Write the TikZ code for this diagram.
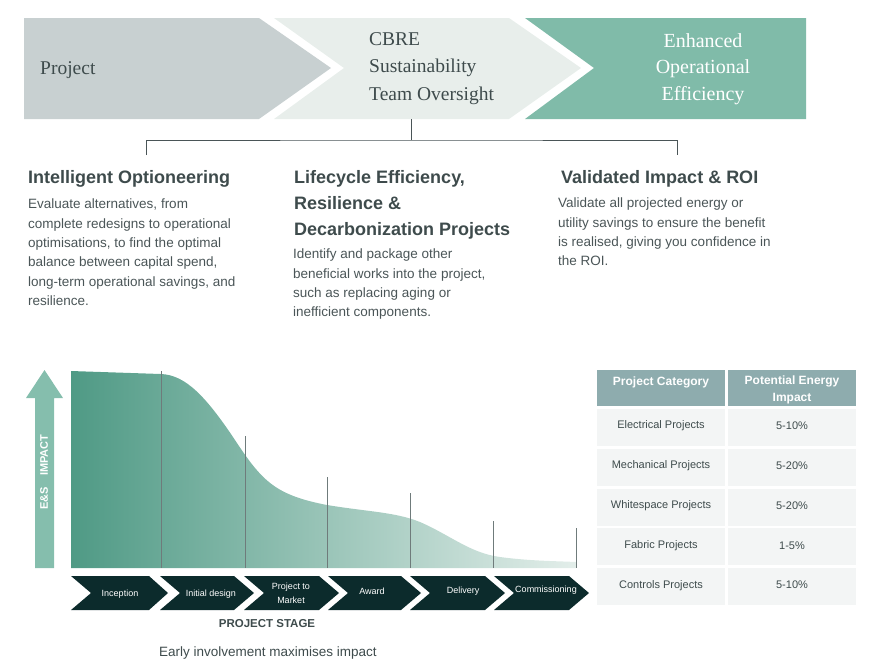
\documentclass[tikz,border=0pt]{standalone}
\usepackage{fontspec}
\setmainfont{Liberation Serif}
\setsansfont{Liberation Sans}
\usetikzlibrary{calc}
\definecolor{bannergray}{HTML}{C8D0D1}
\definecolor{bannerlight}{HTML}{E8EEEB}
\definecolor{bannergreen}{HTML}{80BBA9}
\definecolor{inkgray}{HTML}{3E4B4C}
\definecolor{bodygray}{HTML}{4A5557}
\definecolor{arrowgreen}{HTML}{85BEAD}
\definecolor{curvedark}{HTML}{4F9A85}
\definecolor{curvelight}{HTML}{E3EEEA}
\definecolor{tickgray}{HTML}{6F7B7B}
\definecolor{stagedark}{HTML}{0C2B2C}
\definecolor{tablehead}{HTML}{8EACAE}
\definecolor{tablerow}{HTML}{F3F5F5}
\def\stagechevron(#1:#2:#3){\fill[stagedark] (#1,576) -- (#2,576) -- (#3,593) -- (#2,610) -- (#1,610) -- ({#1+20},593) -- cycle;}
\tikzset{
	banner/.style={inner sep=0pt, align=left, font=\fontsize{19.5}{27.5}\selectfont},
	heading/.style={anchor=north west, inner sep=0pt, align=left, text=inkgray, font=\sffamily\bfseries\fontsize{18}{26}\selectfont},
	bodytext/.style={anchor=north west, inner sep=0pt, align=left, text=bodygray, font=\sffamily\fontsize{13.5}{19.3}\selectfont},
	stagelabel/.style={inner sep=0pt, text=white, align=center, font=\sffamily\fontsize{9}{14}\selectfont},
	cellhead/.style={inner sep=0pt, text=white, align=center, font=\sffamily\bfseries\fontsize{12}{17}\selectfont},
	celltext/.style={inner sep=0pt, text=inkgray, font=\sffamily\fontsize{11}{12}\selectfont}
}

\begin{document}
\begin{tikzpicture}[x=1pt, y=-1pt]
		%%%%% START %%%%%
		\useasboundingbox (0,0) rectangle (872,662);
		
		\fill[bannergray] (24,18) -- (259,18) -- (331,68) -- (259,119) -- (24,119) -- cycle;
		\fill[bannerlight] (274,18) -- (509,18) -- (581,68) -- (509,119) -- (274,119) -- (344,68) -- cycle;
		\fill[bannergreen] (525,18) -- (806,18) -- (806,119) -- (525,119) -- (594,68) -- cycle;
		
		\node[banner, anchor=base west, text=inkgray] (project) at (40,74) {Project};
		\node[banner, anchor=north west, text=inkgray] (oversight) at (369,32) {CBRE\\Sustainability\\Team Oversight};
		\node[banner, align=center, anchor=north, text=white, font=\fontsize{20}{26.5}\selectfont] (efficiency) at (703,33) {Enhanced\\Operational\\Efficiency};
		
		\coordinate (hub) at (411,119);
		\coordinate (split) at (411,140);
		\coordinate (leftdrop) at (146,155);
		\coordinate (rightdrop) at (677,155);
		\draw[line width=1pt, color=bodygray] (hub) -- (split);
		\draw[line width=1pt, color=bodygray] (leftdrop) |- (split) -| (rightdrop);
		
		\node[heading] (optioneering) at (28,170) {Intelligent Optioneering};
		\node[bodytext] (optioneeringtext) at (28,199) {Evaluate alternatives, from\\complete redesigns to operational\\optimisations, to find the optimal\\balance between capital spend,\\long-term operational savings, and\\resilience.};
		\node[heading] (lifecycle) at (294,170) {Lifecycle Efficiency,\\Resilience \&\\Decarbonization Projects};
		\node[bodytext] (lifecycletext) at (293,249) {Identify and package other\\beneficial works into the project,\\such as replacing aging or\\inefficient components.};
		\node[heading] (validated) at (561,170) {Validated Impact \& ROI};
		\node[bodytext] (validatedtext) at (558,198) {Validate all projected energy or\\utility savings to ensure the benefit\\is realised, giving you confidence in\\the ROI.};
		
		% impact arrow
		\fill[arrowgreen] (35,568) -- (35,398) -- (26,398) -- (44.5,370) -- (63,398) -- (54,398) -- (54,568) -- cycle;
		\node[rotate=90, inner sep=0pt, text=white, font=\sffamily\bfseries\fontsize{11}{11}\selectfont] (impactlabel) at (44,472) {E\&S\quad IMPACT};
		
		% impact curve
		\shade[left color=curvedark, right color=curvelight] (71,568) -- (71,371) -- (161,374)
			.. controls (185,375) and (205,395) .. (235,440)
			.. controls (262,481) and (275,495) .. (327,505)
			.. controls (370,512) and (395,512) .. (420,522)
			.. controls (450,535) and (470,553) .. (500,557)
			.. controls (530,561) and (555,561) .. (576,562) -- (576,568) -- cycle;
		\foreach \x/\top in {161/371, 245/436, 327/477, 410/493, 493/521, 576/528}
			\draw[line width=0.7pt, color=tickgray] (\x,\top) -- (\x,568);
		
		% stages
		\stagechevron(71:149:168)
		\stagechevron(160:234:254)
		\stagechevron(244:319:339)
		\stagechevron(328:401:421)
		\stagechevron(410:485:505)
		\stagechevron(494:569:589)
		\node[stagelabel] (inception) at (120,594) {Inception};
		\node[stagelabel] (initialdesign) at (211,594) {Initial design};
		\node[stagelabel] (tomarket) at (291,593) {Project to\\Market};
		\node[stagelabel] (award) at (372,591) {Award};
		\node[stagelabel] (delivery) at (463,591) {Delivery};
		\node[stagelabel] (commissioning) at (546,590) {Commissioning};
		
		\node[text=inkgray, font=\sffamily\bfseries\fontsize{11.5}{11.5}\selectfont] (stageaxis) at (267,624) {PROJECT STAGE};
		\node[text=inkgray, font=\sffamily\fontsize{13.5}{13.5}\selectfont] (caption) at (268,653) {Early involvement maximises impact};
		
		% energy table
		\fill[tablehead] (597,370) rectangle (725,406);
		\fill[tablehead] (728,370) rectangle (856,406);
		\node[cellhead] (categoryhead) at (661,382) {Project Category};
		\node[cellhead] (impacthead) at (792,389.5) {Potential Energy\\Impact};
		\foreach \i/\cat/\pct in {0/Electrical Projects/5-10\%, 1/Mechanical Projects/5-20\%, 2/Whitespace Projects/5-20\%, 3/Fabric Projects/1-5\%, 4/Controls Projects/5-10\%}{
			\fill[tablerow] (597,{409+39.8*\i}) rectangle (725,{446+39.8*\i});
			\fill[tablerow] (728,{409+39.8*\i}) rectangle (856,{446+39.8*\i});
			\node[celltext] (cat\i) at (661,{426+39.8*\i}) {\cat};
			\node[celltext] (pct\i) at (792,{426+39.8*\i}) {\pct};
		}
		
		%%%%% END %%%%%
	\end{tikzpicture}
\end{document}
